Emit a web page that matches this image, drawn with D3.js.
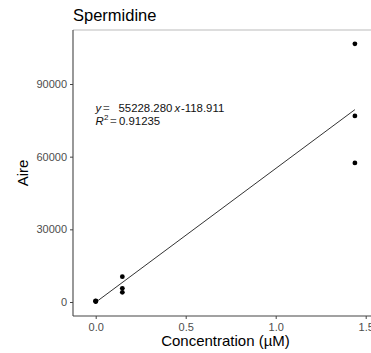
<!DOCTYPE html>
<html><head><meta charset="utf-8">
<script src="https://cdn.jsdelivr.net/npm/d3@7"></script>
<style>body{margin:0;background:#fff}svg{display:block}text{font-family:"Liberation Sans",Arial,sans-serif}</style>
</head><body><svg id="c" width="371" height="353"></svg>
<script>
const conc = [0, 0, 0, 0.148, 0.148, 0.148, 1.44, 1.44, 1.44];
const aire = [300, 500, 200, 10450, 5650, 4000, 106600, 76800, 57400];
const slope = 55228.280, intercept = -118.911, r2 = "0.91235";
const xTicks = [0, 0.5, 1.0, 1.5];
const yTicks = [0, 30000, 60000, 90000];

const svg = d3.select("#c");
const L = 73, T = 30, B = 316, R = 380;
const x = d3.scaleLinear().domain([0, 1.5]).range([95.7, 365.7]);
const y = d3.scaleLinear().domain([0, 90000]).range([302, 84]);

// panel border top
svg.append("line").attr("x1", L).attr("x2", R).attr("y1", T).attr("y2", T).attr("stroke", "#bbb").attr("stroke-width", 1);

const xa = svg.append("g").attr("transform", `translate(0,${B})`)
  .call(d3.axisBottom(x).tickValues(xTicks).tickFormat(d3.format(".1f")).tickSize(3).tickPadding(4));
xa.select(".domain").attr("d", `M${L},0H${R}`);
const ya = svg.append("g").attr("transform", `translate(${L},0)`)
  .call(d3.axisLeft(y).tickValues(yTicks).tickFormat(d3.format("d")).tickSize(3).tickPadding(3));
ya.select(".domain").attr("d", `M0,${T}V${B}`);
[xa, ya].forEach(a => {
  a.select(".domain").attr("stroke", "#444").attr("stroke-width", 1.1);
  a.selectAll(".tick line").attr("stroke", "#444");
  a.selectAll(".tick text").attr("fill", "#4d4d4d").style("font-size", "11px").style("font-family", "Liberation Sans, Arial, sans-serif");
});

// regression line
svg.append("line")
  .attr("x1", x(0)).attr("y1", y(slope * 0 + intercept))
  .attr("x2", x(1.44)).attr("y2", y(slope * 1.44 + intercept))
  .attr("stroke", "#333").attr("stroke-width", 1);

// points
svg.append("g").selectAll("circle").data(conc.map((c, i) => [c, aire[i]])).join("circle")
  .attr("cx", d => x(d[0])).attr("cy", d => y(d[1])).attr("r", 2.4).attr("fill", "#000");

// annotation
const t1 = svg.append("text").attr("y", 112).style("font-size", "11.4px").attr("fill", "#111");
t1.append("tspan").attr("x", 95.5).style("font-style", "italic").text("y");
t1.append("tspan").attr("x", 103).attr("fill", "#666").text("=");
t1.append("tspan").attr("x", 118.5).text("55228.280");
t1.append("tspan").attr("x", 174.5).style("font-style", "italic").text("x");
t1.append("tspan").attr("x", 181).text("-118.911");
const t2 = svg.append("text").attr("y", 125).style("font-size", "11.4px").attr("fill", "#111");
t2.append("tspan").attr("x", 95.5).style("font-style", "italic").text("R");
t2.append("tspan").attr("dy", -5).attr("x", 104).style("font-size", "8px").text("2");
t2.append("tspan").attr("dy", 5).attr("x", 110).attr("fill", "#666").text("=");
t2.append("tspan").attr("x", 119).text(r2);

// titles
svg.append("text").attr("x", 73).attr("y", 21).style("font-size", "16.5px").attr("fill", "#000").text("Spermidine");
svg.append("text").attr("x", 225.5).attr("y", 346).attr("text-anchor", "middle").style("font-size", "15px").attr("fill", "#000").text("Concentration (µM)");
svg.append("text").attr("transform", "translate(28,173) rotate(-90)").attr("text-anchor", "middle").style("font-size", "15px").attr("fill", "#000").text("Aire");
</script></body></html>
